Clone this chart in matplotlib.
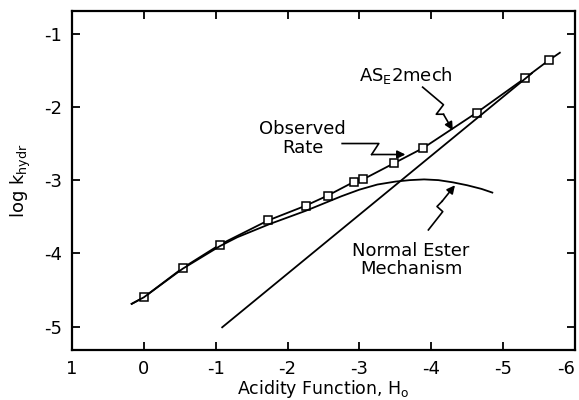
import numpy as np
import matplotlib
matplotlib.use("Agg")
import matplotlib.pyplot as plt

plt.rcParams['font.family'] = ['DejaVu Sans']
plt.rcParams['mathtext.default'] = 'regular'

# observed rate points (H0, log k)
h0_obs = [0.0, -0.54, -1.06, -1.73, -2.25, -2.56, -2.93, -3.05, -3.48, -3.89, -4.63, -5.30, -5.64]
logk_obs = [-4.60, -4.20, -3.88, -3.55, -3.35, -3.21, -3.02, -2.99, -2.77, -2.56, -2.08, -1.61, -1.36]

# observed curve ends
h0_obs_line = [0.17] + h0_obs + [-5.79]
logk_obs_line = [-4.69] + logk_obs + [-1.26]

# A-SE2 mechanism (straight line)
h0_ase2 = [-1.09, -5.40]
logk_ase2 = [-5.01, -1.54]

# normal ester mechanism
h0_ester = [0.17, 0.0, -0.54, -1.06, -1.3, -1.75, -2.25, -2.75, -3.0, -3.25,
            -3.5, -3.7, -3.9, -4.1, -4.3, -4.5, -4.7, -4.85]
logk_ester = [-4.69, -4.60, -4.21, -3.90, -3.78, -3.60, -3.42, -3.22, -3.13, -3.06,
              -3.02, -3.00, -2.99, -3.00, -3.03, -3.07, -3.12, -3.17]

xticks = [1, 0, -1, -2, -3, -4, -5, -6]
yticks = [-1, -2, -3, -4, -5]

fig = plt.figure(figsize=(5.79, 4.0), dpi=100)
ax = fig.add_axes([0.1244, 0.125, 0.8686, 0.8475])

ax.plot(h0_obs_line, logk_obs_line, color='black', lw=1.3)
ax.plot(h0_obs, logk_obs, 's', color='black', markerfacecolor='white',
        markersize=5.5, markeredgewidth=1.1)
ax.plot(h0_ase2, logk_ase2, color='black', lw=1.3)
ax.plot(h0_ester, logk_ester, color='black', lw=1.3)

ax.set_xlim(1, -6)
ax.set_ylim(-5.32, -0.69)
ax.set_xticks(xticks)
ax.set_xticklabels(['1', '0', '-1', '-2', '-3', '-4', '-5', '-6'])
ax.get_xticklabels()[-1].set_ha('right')
ax.set_yticks(yticks)
ax.set_yticklabels(['-1', '-2', '-3', '-4', '-5'])
ax.tick_params(direction='in', length=6, width=1.3, top=True, right=True,
               labelsize=13, pad=7)
for s in ax.spines.values():
    s.set_linewidth(1.6)

ax.set_xlabel('Acidity Function, H$_o$', fontsize=12.5, labelpad=0)
ax.set_ylabel('log k$_{hydr}$', fontsize=13, labelpad=8)

# labels with zigzag arrows
def zigzag(pts, tip):
    xs = [p[0] for p in pts]
    ys = [p[1] for p in pts]
    ax.plot(xs, ys, color='black', lw=1.2)
    ax.annotate('', xy=tip, xytext=pts[-1],
                arrowprops=dict(arrowstyle='-|>', color='black', lw=1.2,
                                mutation_scale=12, shrinkA=0, shrinkB=0))

ax.text(-3.65, -1.57, 'AS$_E$2mech', fontsize=13, ha='center', va='center')
zigzag([(-3.88, -1.73), (-4.17, -1.97), (-4.07, -2.10), (-4.17, -2.10)], (-4.30, -2.32))

ax.text(-2.21, -2.43, 'Observed\nRate', fontsize=13, ha='center', va='center',
        linespacing=1.05)
zigzag([(-2.76, -2.50), (-3.27, -2.50), (-3.17, -2.65)], (-3.64, -2.65))

ax.text(-3.72, -4.09, 'Normal Ester\nMechanism', fontsize=13, ha='center',
        va='center', linespacing=1.05)
zigzag([(-3.96, -3.68), (-4.16, -3.43), (-4.08, -3.36), (-4.15, -3.29)], (-4.33, -3.07))

fig.savefig('out.png', dpi=100)
